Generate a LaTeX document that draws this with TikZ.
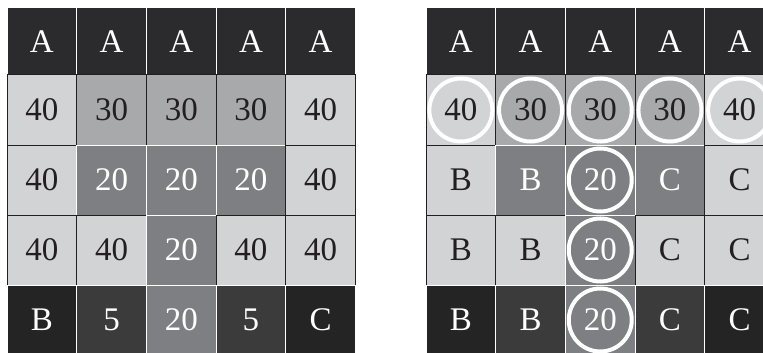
\documentclass[tikz,border=0pt]{standalone}
\usepackage{fontspec}
\setmainfont{Liberation Serif}
\usepackage{xcolor}
\usetikzlibrary{positioning}
\definecolor{cellA}{HTML}{2B2A2C}
\definecolor{cellB}{HTML}{252425}
\definecolor{cellD}{HTML}{3B3B3C}
\definecolor{cell20}{HTML}{7E7F82}
\definecolor{cell30}{HTML}{A8A9AB}
\definecolor{cell40}{HTML}{D2D3D5}
\definecolor{inkdark}{HTML}{231F20}

\begin{document}
\begin{tikzpicture}[x=1pt, y=-1pt,
    cell/.style={minimum width=69.7pt, inner sep=0pt, line width=1pt,
        font=\fontsize{33}{33}\selectfont},
    kA/.style={cell, fill=cellA, draw=white, text=white},
    kB/.style={cell, fill=cellB, draw=white, text=white},
    kD/.style={cell, fill=cellD, draw=white, text=white},
    k20/.style={cell, fill=cell20, draw=white, text=white},
    k30/.style={cell, fill=cell30, draw=inkdark, text=inkdark},
    k40/.style={cell, fill=cell40, draw=inkdark, text=inkdark},
    ring/.style={draw=white, line width=4pt}]
\clip (0,0) rectangle (763,353);
% Left grid
\foreach \y/\h/\row [count=\r] in {
    41.5/67/{kA/A,kA/A,kA/A,kA/A,kA/A},
    110/70/{k40/40,k30/30,k30/30,k30/30,k40/40},
    180/70/{k40/40,k20/20,k20/20,k20/20,k40/40},
    250/70/{k40/40,k40/40,k20/20,k40/40,k40/40},
    320/70/{kB/B,kD/5,k20/20,kD/5,kB/C}}{
    \foreach \s/\t [count=\c] in \row{
        \node[\s, minimum height=\h pt] (L-\r-\c)
            at ({7+34.85+69.7*(\c-1)}, \y) {\t};
    }
}
% Right grid
\foreach \y/\h/\row [count=\r] in {
    41.5/67/{kA/A,kA/A,kA/A,kA/A,kA/A},
    110/70/{k40/40,k30/30,k30/30,k30/30,k40/40},
    180/70/{k40/B,k20/B,k20/20,k20/C,k40/C},
    250/70/{k40/B,k40/B,k20/20,k40/C,k40/C},
    320/70/{kB/B,kD/B,k20/20,kD/C,kB/C}}{
    \foreach \s/\t [count=\c] in \row{
        \node[\s, minimum height=\h pt] (R-\r-\c)
            at ({426+34.85+69.7*(\c-1)}, \y) {\t};
    }
}
% White rings
\foreach \c in {1,...,5}{
    \draw[ring] (R-2-\c) circle[radius=31.5pt];
}
\foreach \r in {3,4,5}{
    \draw[ring] (R-\r-3) circle[radius=31.5pt];
}
\end{tikzpicture}
\end{document}
